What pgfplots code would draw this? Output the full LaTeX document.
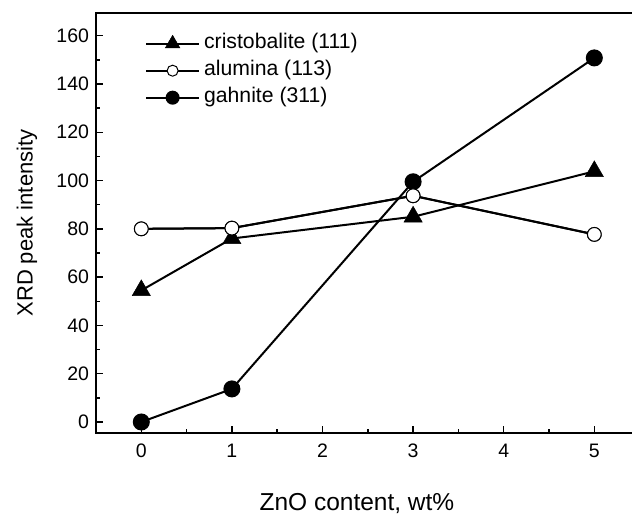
\documentclass[border=0pt]{standalone}
\usepackage{fontspec}
\setmainfont{Liberation Sans}
\usepackage{pgfplots}
\pgfplotsset{compat=1.18}

% XRD peak intensities versus ZnO content
\pgfplotstableread{
x  y
0  54.5
1  76
3  85
5  103.8
}\cristobalite
\pgfplotstableread{
x  y
0  80
1  80.3
3  93.7
5  77.7
}\alumina
\pgfplotstableread{
x  y
0  0
1  13.7
3  99.5
5  150.8
}\gahnite

\begin{document}
\begin{tikzpicture}
\begin{axis}[
  scale only axis,
  width=538bp, height=420bp,
  xmin=-0.5, xmax=5.438,
  ymin=-4.56, ymax=169.4,
  xtick={0,1,2,3,4,5},
  ytick={0,20,...,160},
  minor x tick num=1,
  minor y tick num=1,
  tick pos=left,
  tick align=inside,
  major tick length=7bp,
  minor tick length=4bp,
  axis line style={line width=1.8bp},
  every tick/.style={black, line width=1.5bp},
  /pgf/number format/assume math mode=true,
  ticklabel style={font=\fontsize{19.5bp}{23bp}\selectfont},
  xticklabel style={yshift=-7.5bp},
  yticklabel style={xshift=-3.5bp},
  xlabel={ZnO content, wt\%},
  ylabel={XRD peak intensity},
  every axis x label/.style={at={(axis description cs:0.485,-0.1857)}, anchor=base,
    font=\fontsize{24.5bp}{28bp}\selectfont},
  every axis y label/.style={at={(axis description cs:-0.1283,0.5)}, rotate=90, anchor=center,
    font=\fontsize{22bp}{26bp}\selectfont},
  legend style={at={(axis cs:0.04,160.5)}, anchor=north west, draw=none, fill=none,
    inner sep=0pt, row sep=9bp, column sep=0pt,
    font=\fontsize{21.2bp}{25bp}\selectfont,
    nodes={inner sep=0pt, text height=14bp, text depth=4bp}},
  legend cell align=left,
  legend image code/.code={%
    \draw[#1, /tikz/every mark/.append style={scale=0.8}, mark repeat=2, mark phase=2]
      plot coordinates {(0bp,0bp) (26.5bp,0bp) (53bp,0bp)};
    \path (57bp,0bp);},
]
\coordinate (o) at (rel axis cs:0,0);

\addplot[black, line width=2bp, mark=triangle*, mark size=10.5bp,
  mark options={solid, fill=black, line width=0.5bp}] table {\cristobalite};
\addlegendentry{cristobalite (111)}

\addplot[black, line width=2bp, mark=*, mark size=6.9bp,
  mark options={solid, fill=white, line width=1bp}] table {\alumina};
\addlegendentry{alumina (113)}

\addplot[black, line width=2bp, mark=*, mark size=7.5bp,
  mark options={solid, fill=black}] table {\gahnite};
\addlegendentry{gahnite (311)}

% open circles on top of the filled marks where they overlap
\addplot[forget plot, black, line width=2bp, mark=*, mark size=6.9bp,
  mark options={solid, fill=white, line width=1bp}] table {\alumina};
\end{axis}
\pgfresetboundingbox
\path[use as bounding box, shift={(o)}] (-96bp,-85bp) rectangle (536bp,433bp);
\end{tikzpicture}
\end{document}
